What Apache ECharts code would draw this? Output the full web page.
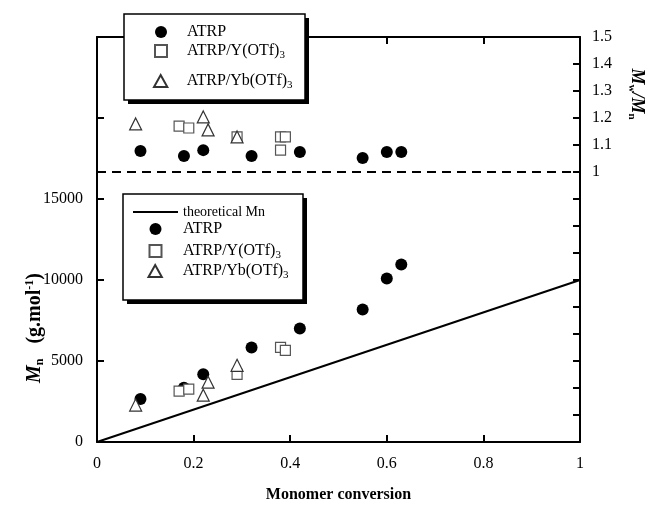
<!DOCTYPE html>
<html>
<head>
<meta charset="utf-8">
<script src="https://cdn.jsdelivr.net/npm/echarts@6/dist/echarts.min.js"></script>
<style>
  html, body { margin: 0; padding: 0; background: #fff; }
  #chart { width: 649px; height: 508px; }
</style>
</head>
<body>
<div id="chart"></div>
<script>
// Mn vs conversion (left axis)
const convAtrp = [0.09, 0.18, 0.22, 0.32, 0.42, 0.55, 0.60, 0.63];
const mnAtrp = [2650, 3350, 4180, 5840, 7010, 8180, 10090, 10950];
const convY = [0.17, 0.19, 0.29, 0.38, 0.39];
const mnY = [3140, 3260, 4180, 5840, 5660];
const convYb = [0.08, 0.22, 0.23, 0.29];
const mnYb = [2280, 2890, 3690, 4735];
const convTheo = [0, 1];
const mnTheo = [0, 10000];

// Mw/Mn vs conversion (right axis)
const pdiConvAtrp = [0.09, 0.18, 0.22, 0.32, 0.42, 0.55, 0.60, 0.63];
const pdiAtrp = [1.078, 1.059, 1.081, 1.059, 1.074, 1.052, 1.074, 1.074];
const pdiConvY = [0.17, 0.19, 0.29, 0.38, 0.39, 0.38];
const pdiY = [1.17, 1.163, 1.13, 1.13, 1.13, 1.081];
const pdiConvYb = [0.08, 0.22, 0.23, 0.29];
const pdiYb = [1.178, 1.204, 1.156, 1.13];
const refLine = [1, 1];

const names = ['theoretical Mn', 'ATRP', 'ATRP/Y(OTf)3', 'ATRP/Yb(OTf)3'];

function pairs(xs, ys) {
  return xs.map((x, i) => [x, ys[i]]);
}

const font = 'Liberation Serif';
const circleStyle = { color: '#000', opacity: 1 };
const squareStyle = { color: '#fff', borderColor: '#555', borderWidth: 1.2, opacity: 1 };
const triStyle = { color: '#fff', borderColor: '#333', borderWidth: 1.2, opacity: 1 };

// legend icons (paths keep their aspect in the legend)
const squareIcon = 'path://M0,0 L10,0 L10,10 L0,10 Z';
const triIcon = 'path://M5,0 L10,9 L0,9 Z';
const barIcon = 'path://M0,0 L45,0 L45,2 L0,2 Z';

const legendRich = {
  t: { fontFamily: font, fontSize: 16, color: '#000' },
  s: { fontFamily: font, fontSize: 14, color: '#000' },
  sub: { fontFamily: font, fontSize: 11, color: '#000', padding: [9, 0, 0, 0] }
};
function legendFmt(name) {
  if (name === 'theoretical Mn') return '{s|' + name + '}';
  if (name.endsWith('(OTf)3')) return '{t|' + name.slice(0, -1) + '}{sub|3}';
  return '{t|' + name + '}';
}
const legendItems = [
  { name: names[0], icon: barIcon },
  { name: names[1], icon: 'circle' },
  { name: names[2], icon: squareIcon },
  { name: names[3], icon: triIcon }
];

// legend boxes with a hard drop shadow
function box(x, y, w, h) {
  return [
    { type: 'rect', z: 3, silent: true, shape: { x: x + 4, y: y + 4, width: w, height: h }, style: { fill: '#000' } },
    { type: 'rect', z: 3, silent: true, shape: { x: x, y: y, width: w, height: h }, style: { fill: '#fff', stroke: '#000', lineWidth: 1.5 } }
  ];
}
// one legend per entry so the rows can be spaced like the original
function legendOf(item, left, top, width) {
  return {
    data: [item], orient: 'vertical', left: left, top: top, z: 5,
    padding: 0, itemWidth: width, itemHeight: 12,
    formatter: legendFmt, textStyle: { rich: legendRich }
  };
}

const myChart = echarts.init(document.getElementById('chart'));
myChart.setOption({
  backgroundColor: '#fff',
  animation: false,
  grid: { left: 97, right: 69, top: 37, bottom: 63 },
  xAxis: [
    {
      type: 'value', min: 0, max: 1, interval: 0.2,
      name: 'Monomer conversion', nameLocation: 'middle', nameGap: 45,
      nameTextStyle: { fontFamily: font, fontSize: 16, fontWeight: 'bold', color: '#000' },
      axisLine: { onZero: false, lineStyle: { color: '#000', width: 2 } },
      axisTick: { inside: true, length: 7, lineStyle: { width: 2 } },
      axisLabel: { fontFamily: font, fontSize: 16, color: '#000', margin: 14 },
      splitLine: { show: false }
    },
    {
      type: 'value', min: 0, max: 1, interval: 0.2, position: 'top',
      axisLine: { onZero: false, lineStyle: { color: '#000', width: 2 } },
      axisTick: { inside: true, length: 7, lineStyle: { width: 2 } },
      axisLabel: { show: false },
      splitLine: { show: false }
    }
  ],
  yAxis: [
    {
      type: 'value', min: 0, max: 25000, interval: 5000,
      axisLine: { show: true, onZero: false, lineStyle: { color: '#000', width: 2 } },
      axisTick: { show: true, inside: true, length: 7, lineStyle: { width: 2 } },
      axisLabel: {
        fontFamily: font, fontSize: 16, color: '#000', margin: 14,
        formatter: v => (v <= 15000 ? String(v) : '')
      },
      splitLine: { show: false }
    },
    {
      type: 'value', min: 0, max: 1.5, interval: 0.1, position: 'right',
      axisLine: { show: true, onZero: false, lineStyle: { color: '#000', width: 2 } },
      axisTick: { show: true, inside: true, length: 7, lineStyle: { width: 2 } },
      axisLabel: {
        fontFamily: font, fontSize: 16, color: '#000', margin: 12,
        formatter: v => (v >= 0.999 ? String(Math.round(v * 10) / 10) : '')
      },
      splitLine: { show: false }
    }
  ],
  legend: [
    legendOf(legendItems[1], 155, 24, 42),
    legendOf(legendItems[2], 154, 43, 42),
    legendOf(legendItems[3], 153, 73, 42),
    legendOf(legendItems[0], 133, 205, 45),
    legendOf(legendItems[1], 149.5, 221, 45),
    legendOf(legendItems[2], 148.5, 243, 45),
    legendOf(legendItems[3], 147.5, 263, 45)
  ],
  graphic: [
    ...box(124, 14, 181, 86),
    ...box(123, 194, 180, 106),
    {
      type: 'text', x: 35, y: 328, rotation: Math.PI / 2,
      style: {
        text: '{i|M}{sub|n}{b|   (g.mol}{sup|-1}{b|)}',
        align: 'center', verticalAlign: 'middle',
        rich: {
          i: { fontFamily: font, fontSize: 20, fontWeight: 'bold', fontStyle: 'italic', fill: '#000' },
          sub: { fontFamily: font, fontSize: 12, fontWeight: 'bold', fill: '#000', padding: [10, 0, 0, 0] },
          b: { fontFamily: font, fontSize: 20, fontWeight: 'bold', fill: '#000' },
          sup: { fontFamily: font, fontSize: 12, fontWeight: 'bold', fill: '#000', padding: [0, 0, 10, 0] }
        }
      }
    },
    {
      type: 'text', x: 637, y: 94, rotation: -Math.PI / 2,
      style: {
        text: '{i|M}{sub|w}{i|/M}{sub|n}',
        align: 'center', verticalAlign: 'middle',
        rich: {
          i: { fontFamily: font, fontSize: 18, fontWeight: 'bold', fontStyle: 'italic', fill: '#000' },
          sub: { fontFamily: font, fontSize: 11, fontWeight: 'bold', fill: '#000', padding: [10, 0, 0, 0] }
        }
      }
    }
  ],
  series: [
    {
      name: 'theoretical Mn', type: 'line', data: pairs(convTheo, mnTheo),
      symbol: 'none', lineStyle: { color: '#000', width: 2 }, itemStyle: { color: '#000' }
    },
    {
      type: 'line', yAxisIndex: 1, data: pairs(convTheo, refLine),
      symbol: 'none', lineStyle: { color: '#000', width: 2, type: [9, 6] }, silent: true
    },
    {
      name: 'ATRP', type: 'scatter', data: pairs(convAtrp, mnAtrp),
      symbol: 'circle', symbolSize: 12, itemStyle: circleStyle
    },
    {
      name: 'ATRP', type: 'scatter', yAxisIndex: 1, data: pairs(pdiConvAtrp, pdiAtrp),
      symbol: 'circle', symbolSize: 12, itemStyle: circleStyle
    },
    {
      name: 'ATRP/Y(OTf)3', type: 'scatter', data: pairs(convY, mnY),
      symbol: 'rect', symbolSize: 10, itemStyle: squareStyle
    },
    {
      name: 'ATRP/Y(OTf)3', type: 'scatter', yAxisIndex: 1, data: pairs(pdiConvY, pdiY),
      symbol: 'rect', symbolSize: 10, itemStyle: squareStyle
    },
    {
      name: 'ATRP/Yb(OTf)3', type: 'scatter', data: pairs(convYb, mnYb),
      symbol: 'triangle', symbolSize: 12, itemStyle: triStyle
    },
    {
      name: 'ATRP/Yb(OTf)3', type: 'scatter', yAxisIndex: 1, data: pairs(pdiConvYb, pdiYb),
      symbol: 'triangle', symbolSize: 12, itemStyle: triStyle
    }
  ]
});
</script>
</body>
</html>
